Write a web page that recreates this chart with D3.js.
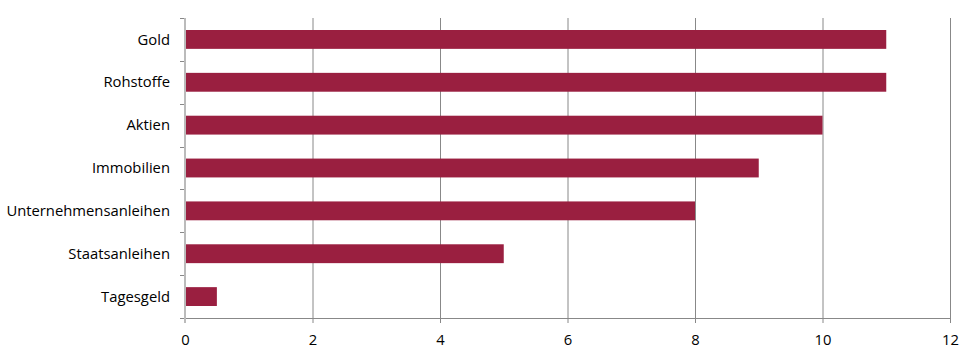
<!DOCTYPE html>
<html>
<head>
<meta charset="utf-8">
<script src="https://cdn.jsdelivr.net/npm/d3@7"></script>
<style>
  body { margin: 0; background: #fff; }
  text { font-family: "Open Sans", "Liberation Sans", sans-serif; font-size: 13px; fill: #000; }
</style>
</head>
<body>
<svg id="chart" width="973" height="361"></svg>
<script>
const categories = ["Gold", "Rohstoffe", "Aktien", "Immobilien", "Unternehmensanleihen", "Staatsanleihen", "Tagesgeld"]
const values = [11, 11, 10, 9, 8, 5, 0.5]
const xTicks = [0, 2, 4, 6, 8, 10, 12]

const svg = d3.select('#chart')
const margin = {top: 18, right: 23, bottom: 43, left: 185}
const width = 973 - margin.left - margin.right
const height = 361 - margin.top - margin.bottom

const g = svg.append('g').attr('transform', `translate(${margin.left},${margin.top})`)

const x = d3.scaleLinear().domain([0, 12]).range([0, width])
const y = d3.scaleBand().domain(categories).range([0, height]).paddingInner(0.56).paddingOuter(0.28)

// gridlines
g.selectAll('.grid').data(xTicks.slice(1))
  .join('line')
  .attr('x1', d => x(d) + 0.5).attr('x2', d => x(d) + 0.5)
  .attr('y1', 0).attr('y2', height)
  .attr('stroke', '#888').attr('stroke-width', 1)

// bars
g.selectAll('rect').data(values)
  .join('rect')
  .attr('x', 0)
  .attr('y', (d, i) => y(categories[i]))
  .attr('width', d => x(d))
  .attr('height', y.bandwidth())
  .attr('fill', '#9a1f40')

// bottom axis
const xAxis = g.append('g').attr('transform', `translate(0,${height})`)
  .call(d3.axisBottom(x).tickValues(xTicks).tickSize(5).tickPadding(11).tickFormat(d3.format('d')))
xAxis.select('.domain').attr('stroke', '#888')
xAxis.selectAll('.tick line').attr('stroke', '#888')
xAxis.selectAll('text').style('font-size', '14.8px')

// left axis: ticks at band boundaries
const step = height / categories.length
const bounds = d3.range(categories.length + 1).map(i => i * step)
g.selectAll('.ytick').data(bounds)
  .join('line')
  .attr('x1', -5).attr('x2', 0)
  .attr('y1', d => Math.round(d) + 0.5).attr('y2', d => Math.round(d) + 0.5)
  .attr('stroke', '#888')
g.append('line')
  .attr('x1', 0).attr('x2', 0)
  .attr('y1', 0).attr('y2', height + 5)
  .attr('stroke', '#bbb').attr('stroke-width', 2)

g.selectAll('.ylabel').data(categories)
  .join('text')
  .attr('x', -15)
  .attr('y', d => y(d) + y.bandwidth() / 2)
  .attr('dy', '0.35em')
  .attr('text-anchor', 'end')
  .style('font-size', '14.8px')
  .text(d => d)
</script>
</body>
</html>
